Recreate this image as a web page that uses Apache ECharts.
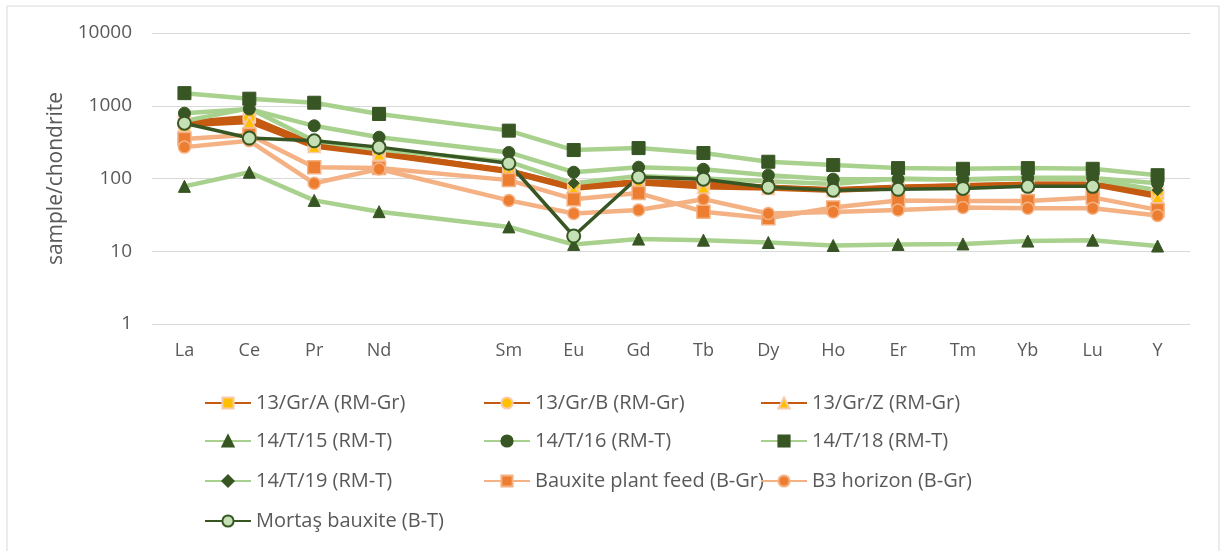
<!DOCTYPE html>
<html>
<head>
<meta charset="utf-8">
<script src="https://cdn.jsdelivr.net/npm/echarts@6/dist/echarts.min.js"></script>
<style>
html,body{margin:0;padding:0;background:#fff;}
#chart{width:1224px;height:551px;}
</style>
</head>
<body>
<div id="chart"></div>
<script>
// Categories (blank slot between Nd and Sm, as in the reference)
const categories = ['La','Ce','Pr','Nd','','Sm','Eu','Gd','Tb','Dy','Ho','Er','Tm','Yb','Lu','Y'];
const yTicks = [1, 10, 100, 1000, 10000];

const gr13A = [590, 700, 290, 225, null, 130, 76, 90, 84, 76, 70, 76, 80, 84, 84, 62];
const gr13B = [570, 680, 300, 230, null, 128, 78, 92, 86, 77, 71, 77, 81, 85, 85, 64];
const gr13Z = [540, 600, 275, 215, null, 123, 72, 86, 76, 73, 68, 74, 78, 82, 82, 56];
const t15 = [78, 122, 50, 35, null, 21.6, 12.4, 14.7, 14.2, 13.2, 12.0, 12.4, 12.6, 13.8, 14.2, 11.8];
const t16 = [790, 900, 530, 370, null, 228, 122, 143, 134, 111, 98, 98, 98, 102, 102, 86];
const t18 = [1490, 1250, 1100, 770, null, 455, 246, 262, 224, 170, 153, 139, 136, 139, 136, 111];
const t19 = [620, 920, 330, 250, null, 170, 86, 108, 100, 92, 84, 100, 96, 100, 98, 69];
const plantFeed = [350, 400, 143, 139, null, 95, 52, 63, 35, 28.5, 40, 50, 49, 49, 55, 37];
const b3Horizon = [270, 330, 86, 135, null, 50, 33, 37, 52, 33, 34.6, 37, 40, 39, 39, 31];
const mortas = [575, 360, 330, 270, null, 162, 16.2, 105, 98, 76, 69, 71, 73, 78, 78, null];

const seriesNames = ['13/Gr/A (RM-Gr)','13/Gr/B (RM-Gr)','13/Gr/Z (RM-Gr)','14/T/15 (RM-T)','14/T/16 (RM-T)','14/T/18 (RM-T)','14/T/19 (RM-T)','Bauxite plant feed (B-Gr)','B3 horizon (B-Gr)','Mortaş bauxite (B-T)'];

const BROWN = '#C55A11', YELLOW = '#FFC000';
const LGREEN = '#A9D18E', DGREEN = '#375623';
const LORANGE = '#F4B183', ORANGE = '#ED7D31';
const FONT = "'Open Sans', sans-serif";

function mk(name, data, lineColor, symbol, symColor, opts) {
  opts = opts || {};
  return {
    name: name, type: 'line', data: data, connectNulls: true,
    symbol: symbol, symbolSize: opts.size || 12,
    lineStyle: {color: lineColor, width: opts.width || 4.5},
    itemStyle: {color: symColor, borderColor: opts.border || symColor, borderWidth: opts.bw || 1},
    emphasis: {disabled: true},
    animation: false
  };
}

const series = [
  mk(seriesNames[0], gr13A, BROWN, 'rect', YELLOW, {border: '#F8CBAD', bw: 1.5}),
  mk(seriesNames[1], gr13B, BROWN, 'circle', YELLOW, {border: '#F8CBAD', bw: 1.5}),
  mk(seriesNames[2], gr13Z, BROWN, 'triangle', YELLOW, {border: '#F8CBAD', bw: 1.5}),
  mk(seriesNames[3], t15, LGREEN, 'triangle', DGREEN),
  mk(seriesNames[4], t16, LGREEN, 'circle', DGREEN),
  mk(seriesNames[5], t18, LGREEN, 'rect', DGREEN, {size: 13}),
  mk(seriesNames[6], t19, LGREEN, 'diamond', DGREEN, {size: 11}),
  mk(seriesNames[7], plantFeed, LORANGE, 'rect', ORANGE, {border: LORANGE, bw: 1.5, size: 13}),
  mk(seriesNames[8], b3Horizon, LORANGE, 'circle', ORANGE, {border: LORANGE, bw: 1.5}),
  mk(seriesNames[9], mortas, DGREEN, 'circle', '#C5E0B4', {border: DGREEN, bw: 2, width: 3.5, size: 13})
];

// legend grid: column lefts and row centres
const colLeft = [204, 483, 760];
const rowCenter = [403, 441, 481, 521];
const legendSlots = [[0,0],[1,0],[2,0],[0,1],[1,1],[2,1],[0,2],[1,2],[2,2],[0,3]];

const legends = seriesNames.map(function(n, i) {
  const s = legendSlots[i];
  return {
    data: [n], left: colLeft[s[0]], top: rowCenter[s[1]] - 11,
    itemWidth: 46, itemHeight: 14, itemGap: 0, padding: 0,
    textStyle: {color: '#595959', fontSize: 20, fontFamily: FONT, lineHeight: 22},
    selectedMode: false
  };
});

const option = {
  backgroundColor: '#fff',
  animation: false,
  grid: {left: 152, right: 34, top: 33, bottom: 227},
  graphic: [{type: 'rect', shape: {x: 7, y: 6, width: 1212, height: 560}, style: {fill: 'none', stroke: '#D9D9D9', lineWidth: 1}, silent: true}],
  xAxis: {
    type: 'category', data: categories, boundaryGap: true,
    axisLine: {show: false}, axisTick: {show: false},
    axisLabel: {color: '#595959', fontSize: 18, fontFamily: FONT, margin: 18, interval: 0},
    splitLine: {show: false}
  },
  yAxis: {
    type: 'log', logBase: 10, min: 1, max: 10000,
    name: 'sample/chondrite', nameLocation: 'middle', nameGap: 84,
    nameTextStyle: {color: '#595959', fontSize: 21, fontFamily: FONT},
    axisLine: {show: false}, axisTick: {show: false},
    axisLabel: {color: '#595959', fontSize: 19, fontFamily: FONT, margin: 20,
      formatter: function(v){ return yTicks.indexOf(Math.round(v)) >= 0 ? String(Math.round(v)) : ''; }},
    splitLine: {lineStyle: {color: '#D9D9D9', width: 1}}
  },
  legend: legends,
  series: series
};

const chart = echarts.init(document.getElementById('chart'), null, {renderer: 'canvas'});
chart.setOption(option);
</script>
</body>
</html>
